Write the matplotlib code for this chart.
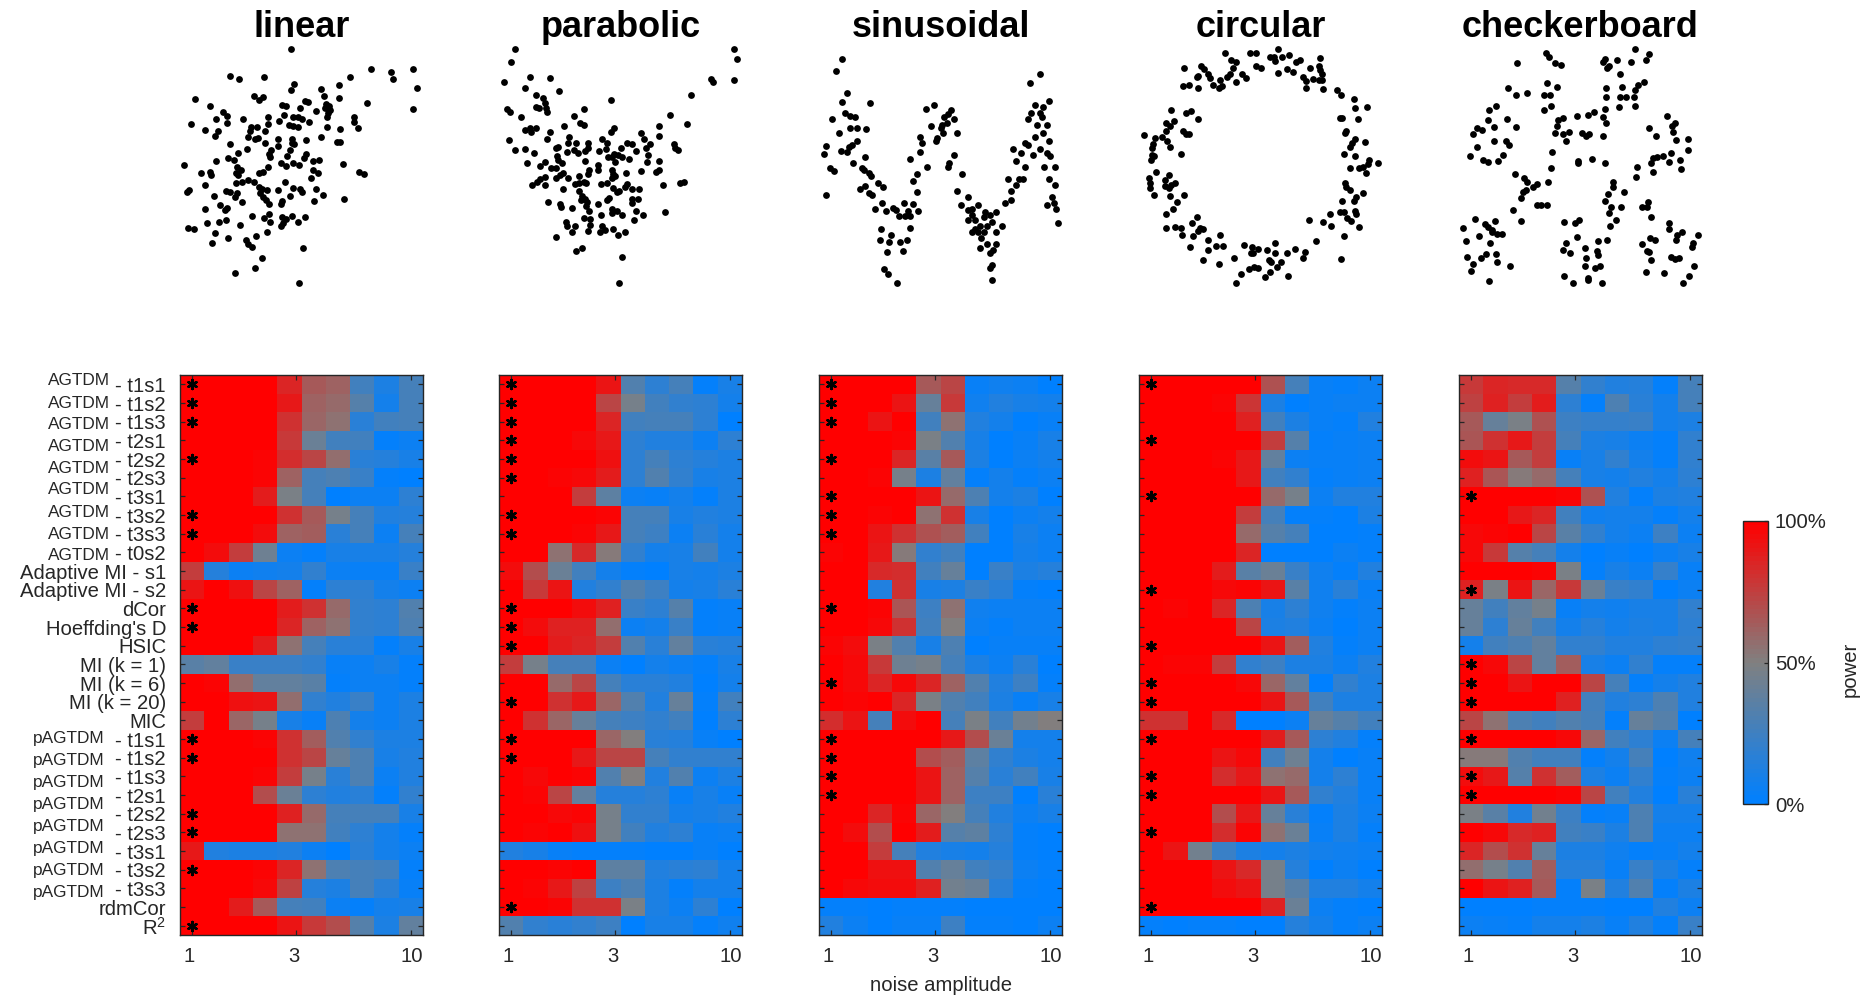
import matplotlib
matplotlib.use("Agg")
import matplotlib.pyplot as plt
from matplotlib.colors import LinearSegmentedColormap
from matplotlib.cm import ScalarMappable
from matplotlib.colors import Normalize
from matplotlib.transforms import ScaledTranslation
import numpy as np

plt.rcParams["font.family"] = ["Liberation Sans", "DejaVu Sans"]
plt.rcParams["mathtext.fontset"] = "custom"
plt.rcParams["mathtext.rm"] = "Liberation Sans"
plt.rcParams["mathtext.default"] = "regular"

titles = ["linear", "parabolic", "sinusoidal", "circular", "checkerboard"]

method_labels = [
    "- t1s1", "- t1s2", "- t1s3", "- t2s1", "- t2s2", "- t2s3", "- t3s1", "- t3s2", "- t3s3", "- t0s2",
    "Adaptive MI - s1", "Adaptive MI - s2", "dCor", "Hoeffding's D", "HSIC",
    "MI (k = 1)", "MI (k = 6)", "MI (k = 20)", "MIC",
    "- t1s1", "- t1s2", "- t1s3", "- t2s1", "- t2s2", "- t2s3", "- t3s1", "- t3s2", "- t3s3",
    "rdmCor", "R$^2$",
]

noise_ticks = [1, 3, 10]

# power in percent, one row per method, one column per noise level
power_linear = [
    [100,100,100,99,85,65,62,25,12,28],
    [100,100,100,100,90,62,58,33,8,28],
    [100,100,100,100,80,60,55,17,25,28],
    [100,100,100,100,78,42,25,25,2,5],
    [100,100,100,97,82,72,57,17,15,10],
    [100,100,100,97,62,28,30,22,3,0],
    [100,100,100,88,47,28,0,5,5,18],
    [100,100,100,100,80,65,46,27,14,15],
    [100,100,99,95,62,64,16,27,6,28],
    [100,95,75,43,5,3,10,10,10,15],
    [75,15,5,7,8,20,5,4,4,22],
    [92,100,93,73,62,3,18,18,8,5],
    [100,100,100,100,88,80,58,20,18,32],
    [100,100,100,100,85,62,55,20,18,30],
    [100,100,100,88,55,27,17,17,2,10],
    [35,38,22,22,22,20,4,6,10,3],
    [100,97,57,38,38,35,2,6,6,3],
    [100,100,93,91,57,20,14,22,6,11],
    [75,100,60,46,10,4,30,8,6,11],
    [100,100,100,98,80,63,32,20,11,11],
    [100,100,100,99,80,72,40,31,10,14],
    [100,100,100,98,76,46,17,30,5,13],
    [100,100,100,70,42,18,14,17,3,20],
    [100,100,100,100,86,58,27,27,27,10],
    [100,100,100,99,55,55,26,18,8,2],
    [90,13,12,12,14,5,1,17,9,6],
    [100,100,100,98,85,55,30,27,25,3],
    [100,100,99,96,74,15,11,28,16,4],
    [100,100,88,65,27,26,5,2,9,10],
    [100,100,100,100,92,77,70,33,12,38],
]

power_parabolic = [
    [100,100,100,100,92,32,18,27,3,10],
    [100,100,100,100,72,46,26,20,18,8],
    [100,100,100,99,85,25,28,28,18,1],
    [100,100,100,96,90,18,13,13,5,18],
    [100,100,100,100,93,18,28,18,15,12],
    [100,100,98,96,89,18,32,20,10,11],
    [100,100,100,75,37,5,4,9,2,11],
    [100,100,100,100,97,28,28,10,14,11],
    [100,100,100,98,90,28,24,5,16,8],
    [99,100,55,83,53,20,8,10,26,8],
    [95,70,42,25,9,3,0,10,8,11],
    [100,78,91,14,20,32,24,9,10,17],
    [100,100,100,94,87,22,18,33,3,4],
    [100,95,86,86,57,6,9,22,3,4],
    [100,100,89,85,76,32,17,38,16,15],
    [75,46,27,27,6,1,9,5,3,10],
    [100,100,59,72,28,16,16,14,1,9],
    [100,100,80,90,60,32,13,40,2,25],
    [100,80,60,40,27,24,20,26,1,18],
    [100,100,100,100,60,50,17,15,4,1],
    [100,100,100,90,73,73,27,19,19,19],
    [100,96,100,97,32,50,13,32,5,12],
    [100,98,72,38,15,15,18,4,10,4],
    [100,100,96,97,46,20,19,9,10,14],
    [100,98,99,93,46,26,13,18,4,6],
    [14,10,4,3,3,2,0,0,4,1],
    [100,100,97,100,36,36,13,16,18,8],
    [100,97,90,74,24,31,12,2,9,8],
    [100,100,97,80,80,47,12,5,18,0],
    [32,20,17,19,24,0,10,10,2,7],
]

power_sinusoidal = [
    [100,100,100,100,65,72,4,7,5,1],
    [100,100,100,92,40,78,7,13,10,9],
    [99,100,92,100,26,55,13,8,1,4],
    [100,100,100,98,48,32,10,1,4,10],
    [100,100,100,85,35,65,11,1,5,9],
    [99,99,98,46,11,38,2,8,2,5],
    [100,100,100,100,91,58,30,9,12,1],
    [100,100,98,100,55,81,10,1,5,8],
    [100,100,92,80,68,63,26,1,10,5],
    [98,100,90,52,20,26,1,1,8,5],
    [100,100,84,82,26,40,1,22,12,15],
    [100,100,13,81,10,12,23,16,2,1],
    [100,100,97,67,24,56,7,5,5,5],
    [100,100,96,80,25,50,6,2,6,6],
    [98,95,48,32,10,30,1,4,4,4],
    [100,96,78,43,46,27,12,5,17,1],
    [100,96,85,96,85,62,32,14,24,3],
    [100,97,100,85,47,32,25,12,4,10],
    [82,91,28,94,100,28,48,25,44,50],
    [100,100,100,100,100,90,70,42,9,8],
    [100,100,100,100,70,64,36,19,12,9],
    [100,100,99,100,92,62,33,17,25,10],
    [100,100,100,100,92,62,24,24,1,17],
    [100,100,85,97,60,50,27,14,5,10],
    [100,95,70,100,88,33,37,18,3,1],
    [100,100,76,28,13,10,9,15,3,1],
    [100,100,93,93,32,40,26,21,5,2],
    [100,96,94,94,86,44,42,16,2,1],
    [3,2,1,2,3,2,0,0,0,0],
    [13,6,0,4,4,24,3,2,0,6],
]

power_circular = [
    [100,100,100,100,100,68,28,4,2,6],
    [100,100,100,98,79,12,1,4,6,6],
    [100,100,100,100,86,26,12,4,3,14],
    [100,100,100,100,100,76,33,3,4,5],
    [100,100,100,98,90,38,5,4,4,5],
    [100,100,100,100,90,26,20,3,4,5],
    [100,100,100,100,100,58,46,6,13,14],
    [100,100,100,100,76,28,2,3,1,12],
    [100,100,100,100,58,33,27,1,1,2],
    [100,100,100,100,85,0,0,0,5,2],
    [100,100,100,88,35,42,22,7,2,14],
    [100,100,100,96,97,92,35,7,16,4],
    [100,98,100,85,31,10,18,7,2,5],
    [100,100,100,100,72,11,14,5,1,6],
    [100,100,100,100,100,92,63,14,2,6],
    [100,98,97,75,20,24,11,11,6,13],
    [99,100,100,100,96,60,39,1,20,11],
    [100,100,100,100,100,92,65,26,12,12],
    [80,80,100,84,0,0,5,40,33,25],
    [100,100,100,100,100,88,65,18,14,2],
    [100,100,100,91,96,26,43,9,1,4],
    [100,100,100,82,90,55,58,9,18,4],
    [100,100,100,100,100,92,65,20,14,4],
    [100,100,100,70,90,40,16,2,11,5],
    [100,100,100,82,97,55,42,4,12,2],
    [100,92,45,22,12,9,12,9,7,6],
    [100,100,100,92,84,46,15,1,5,1],
    [100,100,100,95,92,46,35,13,13,8],
    [100,100,100,100,100,86,42,5,3,1],
    [2,1,3,2,1,1,15,8,3,5],
]

power_checkerboard = [
    [78,85,84,84,33,20,14,15,3,27],
    [74,86,76,89,18,3,30,17,8,28],
    [65,40,47,68,24,21,21,22,9,12],
    [66,80,90,76,27,12,10,5,3,20],
    [94,91,65,75,4,10,19,8,3,20],
    [87,67,52,58,28,10,8,14,8,18],
    [100,100,100,100,98,68,13,3,12,13],
    [100,100,90,85,25,7,8,8,3,8],
    [96,98,100,73,35,20,8,6,24,5],
    [96,78,34,28,9,0,4,1,6,10],
    [100,99,100,97,47,2,10,6,21,4],
    [87,47,91,60,78,42,23,19,1,5],
    [40,26,39,46,4,9,7,10,10,19],
    [40,18,40,26,9,15,8,12,10,18],
    [8,26,30,38,19,19,13,14,18,20],
    [100,96,72,38,63,10,5,20,2,2],
    [100,100,92,100,100,72,28,2,9,13],
    [100,100,100,100,86,26,13,18,30,14],
    [72,55,30,26,32,27,2,40,33,0],
    [100,100,100,100,96,60,25,18,5,27],
    [52,52,32,25,25,3,8,28,1,7],
    [95,90,33,80,63,12,5,20,2,6],
    [100,100,100,100,98,72,25,14,0,16],
    [47,35,13,44,24,3,4,30,9,9],
    [100,96,83,86,25,22,12,30,5,6],
    [85,70,80,40,12,12,7,3,4,9],
    [57,46,32,63,15,15,4,22,12,2],
    [100,92,87,65,3,48,14,32,2,12],
    [1,1,1,2,2,2,0,1,14,5],
    [6,4,3,8,8,12,4,13,2,22],
]

# rows that carry a star in each panel
stars_linear = [0,1,2,4,7,8,12,13,19,20,23,24,26,29]
stars_parabolic = [0,1,2,3,4,5,7,8,12,13,14,17,19,20,28]
stars_sinusoidal = [0,1,2,4,6,7,8,12,16,19,20,21,22]
stars_circular = [0,3,6,11,14,16,17,19,21,22,24,28]
stars_checkerboard = [6,11,15,16,17,19,21,22]

# scatter points (no axes there, so the units are just image units)
linear_pts = [
    (277,146),(157,228),(175,236),(223,230),(283,252),(276,270),(434,207),(472,216),(477,236),(516,206),(391,232),(370,254),
    (524,265),(516,327),(336,266),(341,287),(370,294),(88,297),(204,287),(222,292),(214,300),(310,305),(303,302),(426,308),
    (118,319),(258,316),(266,318),(294,325),(345,312),(350,318),(342,325),(325,333),(352,330),(348,340),(346,352),(143,335),
    (150,348),(150,370),(129,358),(183,357),(232,350),(263,345),(280,352),(290,350),(298,358),(311,365),(252,362),(232,373),
    (80,371),(108,390),(134,393),(128,409),(197,381),(209,381),(195,392),(226,393),(272,375),(281,378),(290,382),(346,380),
    (372,388),(399,352),(399,367),(408,384),(192,410),(205,418),(212,415),(250,417),(279,417),(306,421),(335,412),(366,426),
    (373,426),(157,433),(226,430),(250,438),(278,430),(283,433),(190,446),(275,450),(173,460),(152,474),(237,450),(233,462),
    (235,470),(268,468),(305,462),(302,475),(165,480),(129,484),(66,496),(232,502),(256,488),(266,497),(280,488),(292,495),
    (320,482),(331,480),(379,492),(170,500),(178,510),(168,518),(172,525),(100,519),(117,515),(119,525),(213,520),(222,515),
    (320,510),(330,520),(316,533),(410,516),(420,522),(107,555),(168,550),(180,545),(192,541),(203,545),(265,545),(213,560),
    (220,568),(230,570),(251,570),(280,565),(294,567),(298,577),(325,567),(73,575),(77,571),(148,573),(157,575),(170,578),
    (167,590),(126,589),(275,587),(340,585),(381,598),(321,602),(215,580),(222,590),(228,600),(233,612),(181,607),(259,602),
    (256,612),(137,616),(150,623),(147,630),(108,627),(234,643),(200,648),(223,655),(236,667),(258,652),(266,658),(260,668),
    (257,677),(279,647),(290,665),(303,650),(111,669),(135,666),(148,661),(177,676),(75,684),(87,688),(128,700),(229,695),
    (207,707),(121,730),(153,715),(188,720),(193,733),(200,742),(299,745),(220,773),(206,805),(167,820),(292,849),
]

parabolic_pts = [
    (715,148),(707,185),(1144,147),(1151,176),(745,232),(783,234),(693,246),(1100,238),(1104,246),(1144,241),(735,265),(802,272),
    (756,285),(770,295),(1061,285),(904,300),(775,310),(757,320),(763,325),(777,325),(778,335),(851,326),(700,326),(705,335),
    (727,350),(830,347),(1018,346),(843,370),(851,375),(1053,372),(811,377),(997,377),(735,390),(745,385),(757,384),(746,397),
    (784,396),(910,383),(903,396),(963,399),(997,408),(779,418),(704,420),(822,412),(820,430),(835,428),(885,418),(895,428),
    (968,418),(935,430),(945,433),(980,433),(972,445),(1026,432),(1035,450),(1028,445),(715,450),(735,448),(753,458),(795,445),
    (800,440),(817,455),(830,450),(838,458),(858,430),(858,445),(853,453),(880,453),(893,448),(922,445),(952,453),(975,465),
    (910,462),(905,472),(918,465),(925,470),(938,477),(897,470),(912,485),(973,485),(998,482),(738,490),(775,486),(765,498),
    (797,468),(800,480),(785,505),(795,505),(807,490),(853,483),(877,495),(878,510),(860,510),(858,522),(905,510),(907,522),
    (933,520),(962,512),(997,510),(992,515),(748,555),(758,545),(765,537),(775,530),(775,555),(795,535),(803,525),(809,520),
    (820,533),(840,528),(840,550),(832,552),(855,548),(850,545),(883,553),(895,548),(905,533),(912,528),(1006,555),(1038,550),
    (1047,545),(809,567),(840,572),(908,565),(920,572),(930,560),(935,552),(945,567),(958,566),(916,577),(847,587),(853,597),
    (845,600),(857,605),(895,600),(900,595),(878,612),(945,597),(957,597),(945,608),(780,605),(803,612),(806,622),(827,623),
    (855,617),(860,632),(1009,636),(905,628),(905,640),(915,632),(925,645),(952,633),(967,645),(948,660),(884,645),(850,655),
    (862,657),(862,675),(815,665),(818,678),(833,678),(885,678),(827,697),(858,692),(882,697),(892,690),(907,688),(930,697),
    (917,706),(795,711),(847,744),(834,752),(925,770),(919,849),
]

sinusoidal_left_pts = [
    (1356,176),(1344,212),(1366,280),(1357,305),(1410,310),(1336,356),(1361,340),(1372,347),(1381,352),(1371,385),(1385,385),
    (1403,386),(1350,400),(1325,437),(1320,462),(1355,452),(1365,455),(1385,422),(1375,435),(1370,442),(1378,488),(1402,470),
    (1395,505),(1400,510),(1408,520),(1412,527),(1333,505),(1340,513),(1324,585),(1427,550),(1437,562),(1402,558),(1392,567),
    (1408,580),(1415,585),(1435,610),(1420,627),(1442,632),(1455,625),(1462,630),(1477,610),(1468,648),(1480,648),(1490,648),
    (1496,613),(1485,632),(1505,633),(1489,683),(1432,687),(1453,705),(1430,720),(1448,725),(1470,727),(1484,720),(1444,755),
    (1475,752),(1438,808),(1446,823),(1464,849),(1502,577),(1495,542),(1503,523),(1522,500),(1490,478),(1508,455),(1512,430),
    (1508,410),(1530,378),(1537,315),(1521,327),(1563,342),(1562,368),(1550,385),(1553,400),(1543,415),(1565,490),
]
sinusoidal_right_pts = [
    (798,92),(800,100),(803,112),(790,105),(800,130),(795,140),(807,146),(803,160),(806,172),(812,176),(815,180),(818,185),
    (812,165),(820,172),(825,182),(822,190),(820,195),(815,195),(830,180),(835,178),(823,200),(828,205),(830,212),(833,210),
    (835,205),(830,225),(832,235),(840,190),(843,170),(848,160),(852,155),(845,150),(852,135),(850,125),(856,128),(860,120),
    (862,100),(865,95),(872,95),(868,88),(875,90),(880,85),(872,62),(864,70),(870,105),(875,112),(880,118),(872,125),
    (866,130),(860,140),(876,140),(880,150),(885,155),(882,165),(887,187),(884,170),(878,172),(868,115),
    (815,175),(812,185),(826,178),(818,192),(822,208),(825,195),(828,190),(832,186),(832,222),(835,195),(848,168),(855,150),
    (858,150),(874,98),(878,105),(862,122),(878,128),(881,131),(885,140),(886,175),(792,98),(785,118),
]

circular_pts = [
    (307,160),(368,160),(382,160),(436,147),(417,170),(427,170),(430,183),(447,172),(462,166),(480,185),(490,181),(322,180),
    (333,186),(540,175),(205,205),(247,198),(255,208),(325,205),(382,198),(394,204),(437,218),(457,207),(472,215),(514,204),
    (536,197),(540,210),(543,222),(238,232),(240,228),(265,222),(270,235),(318,222),(310,230),(347,222),(358,233),(497,230),
    (523,237),(545,240),(537,240),(295,241),(333,247),(505,243),(204,257),(218,255),(241,265),(277,254),(292,265),(300,258),
    (505,263),(546,267),(581,270),(591,284),(623,297),(624,325),(654,321),(175,329),(210,340),(222,332),(241,358),(589,355),
    (594,354),(631,356),(182,362),(162,370),(172,377),(162,393),(203,393),(210,403),(218,402),(603,393),(600,400),(107,405),
    (135,413),(152,410),(163,422),(130,432),(128,445),(172,441),(198,462),(625,418),(618,428),(612,440),(650,426),(597,463),
    (624,468),(127,465),(133,468),(126,480),(660,480),(657,493),(645,500),(635,503),(612,505),(680,490),(652,518),(137,516),
    (120,534),(170,524),(160,540),(183,548),(175,555),(160,557),(168,565),(122,550),(123,565),(601,550),(604,560),(613,570),
    (645,578),(133,585),(171,589),(206,586),(188,605),(627,592),(622,603),(592,604),(180,628),(162,641),(624,633),(627,643),
    (588,635),(597,637),(564,641),(605,655),(615,662),(237,651),(225,669),(511,660),(547,665),(566,678),(634,680),(162,683),
    (184,680),(198,685),(245,683),(253,687),(241,693),(202,704),(228,707),(295,704),(597,708),(265,720),(530,722),(220,740),
    (283,738),(302,737),(264,751),(353,736),(372,742),(388,746),(410,750),(429,730),(428,758),(478,746),(459,760),(502,755),
    (498,775),(370,760),(376,760),(329,773),(253,781),(292,792),(415,780),(420,785),(443,785),(433,800),(591,777),(365,808),
    (378,800),(388,805),(417,815),(405,832),(461,829),(345,822),(332,849),
]

checkerboard_pts = [
    (1092,160),(1100,172),(1312,147),(1345,163),(1338,180),(1237,176),(1266,181),(1300,186),(1022,190),(1115,190),(1130,196),
    (1233,187),(1242,205),(1248,198),(1274,222),(1096,248),(1120,260),(1000,263),(1240,264),(1280,260),(1334,245),(1318,255),
    (1312,270),(1047,278),(1020,285),(1087,285),(1102,285),(1240,290),(1275,291),(1290,291),(1308,292),(971,318),(953,330),
    (1106,317),(1087,330),(1238,327),(1271,322),(1312,319),(1135,355),(1122,360),(1168,348),(1197,345),(1211,337),(1232,352),
    (1240,368),(1389,347),(951,360),(997,357),(1120,378),(1020,381),(965,381),(925,383),(937,390),(914,401),(1115,400),(1135,403),
    (1150,397),(1182,400),(1190,407),(1198,402),(1232,407),(1141,424),(1346,385),(1362,408),(1410,370),(1402,378),(1403,395),
    (1412,420),(1441,418),(965,422),(995,423),(1002,435),(923,441),(1441,450),(906,468),(988,464),(975,484),(938,480),(951,486),
    (1107,457),(1400,460),(1380,468),(1365,470),(1356,475),(1393,485),(1421,480),(1350,490),(1172,482),(1172,490),(1205,478),
    (1238,490),(1105,505),(1315,502),(1424,507),(1354,515),(1017,522),(1040,535),(1046,546),(1314,532),(1098,545),(1258,545),
    (1256,562),(1070,552),(1060,562),(1045,570),(1037,575),(1285,577),(1245,583),(1033,594),(1237,604),(1070,615),(1082,616),
    (1095,616),(1344,606),(1329,620),(1340,622),(1252,620),(1277,620),(1247,640),(1012,630),(1350,652),(1032,662),(1136,667),
    (1163,670),(1175,661),(1264,661),(1250,677),(918,657),(967,663),(943,672),(950,680),(960,690),(890,684),(1393,668),(1394,688),
    (960,697),(973,702),(985,702),(1425,697),(1415,705),(1464,705),(929,708),(898,722),(1168,711),(1221,722),(1243,721),(1347,714),
    (1361,721),(1412,720),(957,730),(1141,730),(1329,733),(1453,728),(1451,742),(1188,743),(1218,752),(1135,750),(1153,760),
    (1340,754),(1345,756),(1220,765),(900,770),(945,763),(970,763),(935,775),(972,785),(1190,773),(1350,781),(1400,770),(1410,778),
    (1418,775),(915,793),(1005,797),(1188,797),(1225,798),(1212,805),(1455,798),(910,812),(1338,815),(1382,818),(953,842),(1137,827),
    (1158,848),(1195,835),(1197,840),(1230,849),(1444,828),(1428,849),
]

W, H = 1869, 1000
TXT = "#262626"

def px_axes(fig, x0, y0, x1, y1):
    return fig.add_axes([x0 / W, 1 - y1 / H, (x1 - x0) / W, (y1 - y0) / H])

def px_text(fig, x, y, s, **kw):
    fig.text(x / W, 1 - y / H, s, color=TXT, **kw)

cmap = LinearSegmentedColormap.from_list(
    "power", [(0, "#0080ff"), (0.5, "#808080"), (1, "#ff0000")], N=64)

fig = plt.figure(figsize=(W / 100, H / 100), dpi=100)

panel_left = [180, 499, 819, 1139, 1459]
panel_w = 243

# sinusoidal: bring the right half into the units of the left crop
sin_right = np.array(sinusoidal_right_pts, dtype=float)
sin_right[:, 0] = (sin_right[:, 0] - 125.85) / 0.428
sin_right[:, 1] = sin_right[:, 1] / 0.2797
sinusoidal_pts = np.vstack([np.array(sinusoidal_left_pts, dtype=float), sin_right])

scatter_sets = [np.array(linear_pts), np.array(parabolic_pts), sinusoidal_pts,
                np.array(circular_pts), np.array(checkerboard_pts)]
# image-unit range covered by each scatter box
scatter_xlim = [(58.8, 535), (684, 1160), (1311, 1787), (95.5, 691), (880, 1475)]

for i in range(5):
    ax = px_axes(fig, panel_left[i], 40, panel_left[i] + panel_w, 290)
    pts = scatter_sets[i]
    ax.scatter(pts[:, 0], pts[:, 1], s=24, color="black", linewidths=0)
    ax.set_xlim(*scatter_xlim[i])
    ax.set_ylim(870, 120)
    ax.axis("off")
    # y given so matplotlib does not push the title up on its own
    ax.set_title(titles[i], fontsize=26, fontweight="bold", color="black", y=1.0, pad=2.2)

power_sets = [power_linear, power_parabolic, power_sinusoidal, power_circular, power_checkerboard]
star_sets = [stars_linear, stars_parabolic, stars_sinusoidal, stars_circular, stars_checkerboard]

n_rows = len(method_labels)
n_cols = 10
noise = np.logspace(0, 1, n_cols)
edges = 10 ** ((np.arange(n_cols + 1) - 0.5) / (n_cols - 1))
row_edges = np.arange(n_rows + 1) - 0.5

for i in range(5):
    ax = px_axes(fig, panel_left[i], 375, panel_left[i] + panel_w, 935)
    ax.pcolormesh(edges, row_edges, np.array(power_sets[i]), cmap=cmap, vmin=0, vmax=100,
                  shading="flat", antialiased=False)
    ax.scatter(np.full(len(star_sets[i]), noise[0]), star_sets[i], marker=(6, 2, 0),
               s=42, color="black", linewidths=1.8, zorder=3)
    ax.set_xscale("log")
    ax.set_xlim(edges[0], edges[-1])
    ax.set_ylim(n_rows - 0.5, -0.5)
    ax.set_xticks(noise_ticks)
    ax.set_xticklabels([str(t) for t in noise_ticks])
    ax.xaxis.set_minor_locator(matplotlib.ticker.NullLocator())
    ax.set_yticks(np.arange(n_rows))
    if i == 0:
        ax.set_yticklabels(method_labels)
    else:
        ax.set_yticklabels([])
    ax.tick_params(axis="both", which="major", direction="in", length=3.6, width=0.9, color=TXT,
                   top=True, right=True, labelcolor=TXT, labelsize=14.6)
    ax.tick_params(axis="y", pad=10)
    ax.tick_params(axis="x", pad=8.5)
    # the tick numbers sit a little off their ticks in the original
    for lab, dx in zip(ax.get_xticklabels(), [-3, -3, 1]):
        lab.set_transform(lab.get_transform() + ScaledTranslation(dx / 100, 0, fig.dpi_scale_trans))
    for s in ax.spines.values():
        s.set_color(TXT)
        s.set_linewidth(1.0)
    if i == 2:
        ax.set_xlabel("noise amplitude", fontsize=14.6, color=TXT, labelpad=7)

# the long method names sit apart from their suffixes, on a spacing of their own
agtdm_y = [385, 408, 429, 451, 473, 494.5, 517, 539, 560.5]
pagtdm_y = [743, 765, 787, 809, 831, 853, 875, 897]
for y in agtdm_y:
    px_text(fig, 110, y, "AGTDM", fontsize=12.4, ha="right", va="baseline")
for y in pagtdm_y:
    px_text(fig, 105, y, "pAGTDM", fontsize=12.4, ha="right", va="baseline")

cax = px_axes(fig, 1743, 521, 1768, 804)
cb = fig.colorbar(ScalarMappable(norm=Normalize(0, 100), cmap=cmap), cax=cax)
cb.set_ticks([0, 50, 100])
cb.set_ticklabels(["0%", "50%", "100%"])
cax.tick_params(direction="in", length=3, width=0.9, color=TXT, labelcolor=TXT, labelsize=14.6, pad=5)
cb.outline.set_edgecolor(TXT)
cb.outline.set_linewidth(1.0)
px_text(fig, 1850, 669, "power", fontsize=14.6, rotation=90, ha="center", va="center")

fig.savefig("out.png", dpi=100)
